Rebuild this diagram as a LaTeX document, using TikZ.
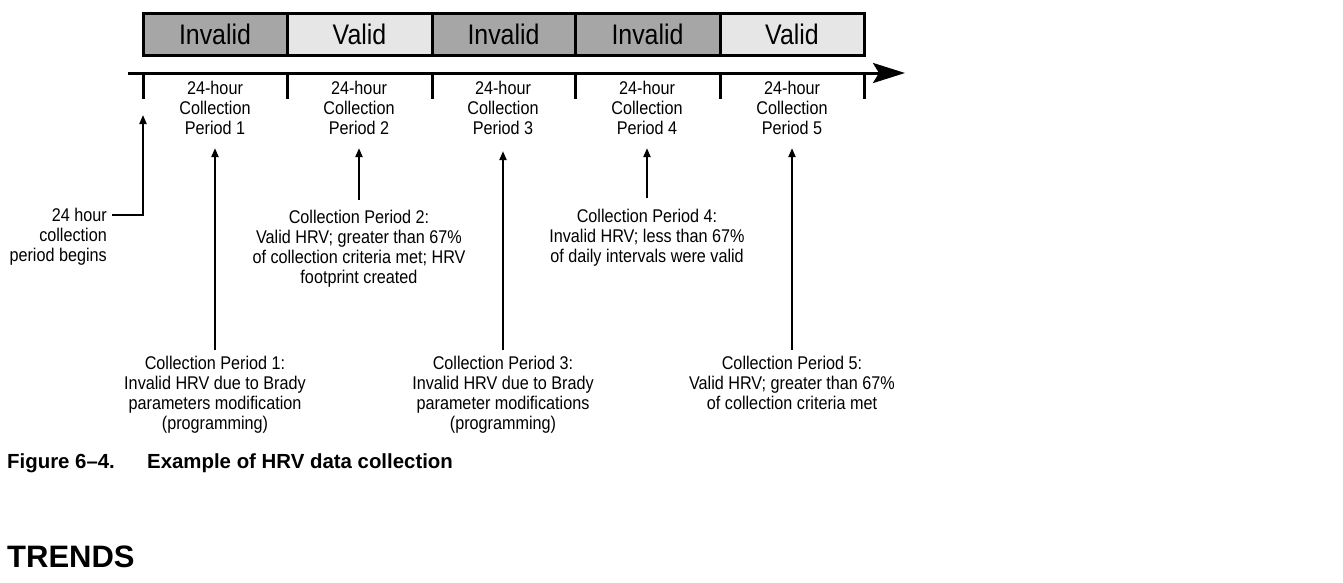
\documentclass[tikz,border=0pt]{standalone}
\usepackage{fontspec}
\setmainfont{Liberation Sans}
\newfontfamily\condfont[FakeStretch=0.88]{Liberation Sans}
\usetikzlibrary{arrows.meta}
\definecolor{invgray}{RGB}{166,166,166}
\definecolor{valgray}{RGB}{230,230,230}
\tikzset{
  lbl/.style={font=\condfont\fontsize{18.4}{20.1}\selectfont, align=center, inner sep=0pt, anchor=north},
  periodbox/.style={draw, line width=3pt, minimum height=42pt, inner sep=0pt,
     font=\condfont\fontsize{28.3}{32}\selectfont},
  invbox/.style={periodbox, fill=invgray},
  valbox/.style={periodbox, fill=valgray},
  axis/.style={line width=3pt, -{Stealth[length=32pt,width=20pt,inset=6pt]}},
  tick/.style={line width=3pt},
  arr/.style={line width=2pt, -{Triangle[length=9pt,width=7pt]}},
}
\begin{document}
\begin{tikzpicture}[x=1pt,y=-1pt]
\useasboundingbox (0,0) rectangle (1343,582);
\fill[white] (0,0) rectangle (1343,582);

% status boxes
\node[invbox, minimum width=144pt] (s1) at (215,34) {Invalid};
\node[valbox, minimum width=145pt] (s2) at (359.5,34) {Valid};
\node[invbox, minimum width=143pt] (s3) at (503.5,34) {Invalid};
\node[invbox, minimum width=145pt] (s4) at (647.5,34) {Invalid};
\node[valbox, minimum width=144pt] (s5) at (792,34) {Valid};

% timeline
\coordinate (tl0) at (128,73);
\coordinate (tl1) at (905,73);
\draw[axis] (tl0) -- (tl1);
\foreach \i/\x in {0/143,1/287,2/432,3/575,4/720,5/864}{
  \coordinate (k\i) at (\x,99);
  \draw[tick] (\x,73) -- (k\i);
}

% period labels
\node[lbl] (t1) at (215,81) {24-hour\\Collection\\Period 1};
\node[lbl] (t2) at (359,81) {24-hour\\Collection\\Period 2};
\node[lbl] (t3) at (503,81) {24-hour\\Collection\\Period 3};
\node[lbl] (t4) at (647,81) {24-hour\\Collection\\Period 4};
\node[lbl] (t5) at (792,81) {24-hour\\Collection\\Period 5};

% start annotation
\node[lbl, align=right, anchor=north east] (begin) at (107,208) {24 hour\\collection\\period begins};
\coordinate (bs) at (112,215);
\coordinate (btip) at (143,115);
\draw[arr] (bs) -| (btip);

% descriptions
\node[lbl] (d1) at (215,356) {Collection Period 1:\\Invalid HRV due to Brady\\parameters modification\\(programming)};
\node[lbl] (d2) at (359,210) {Collection Period 2:\\Valid HRV; greater than 67\%\\of collection criteria met; HRV\\footprint created};
\node[lbl] (d3) at (503,356) {Collection Period 3:\\Invalid HRV due to Brady\\parameter modifications\\(programming)};
\node[lbl] (d4) at (647,209) {Collection Period 4:\\Invalid HRV; less than 67\%\\of daily intervals were valid};
\node[lbl] (d5) at (792,356) {Collection Period 5:\\Valid HRV; greater than 67\%\\of collection criteria met};

\draw[arr, shorten <=6pt, shorten >=13pt] (d1.north) -- (t1.south);
\draw[arr, shorten <=10pt, shorten >=13pt] (d2.north) -- (t2.south);
\draw[arr, shorten <=6pt, shorten >=16pt] (d3.north) -- (t3.south);
\draw[arr, shorten <=11pt, shorten >=13pt] (d4.north) -- (t4.south);
\draw[arr, shorten <=6pt, shorten >=13pt] (d5.north) -- (t5.south);

% caption and heading
\node[anchor=west, inner sep=0pt, font=\bfseries\fontsize{20.4}{24}\selectfont] (cap) at (7,463)
  {\makebox[140pt][l]{Figure 6–4.}Example of HRV data collection};
\node[anchor=west, inner sep=0pt, font=\bfseries\fontsize{31}{36}\selectfont] (trends) at (7,557) {TRENDS};
\end{tikzpicture}
\end{document}
